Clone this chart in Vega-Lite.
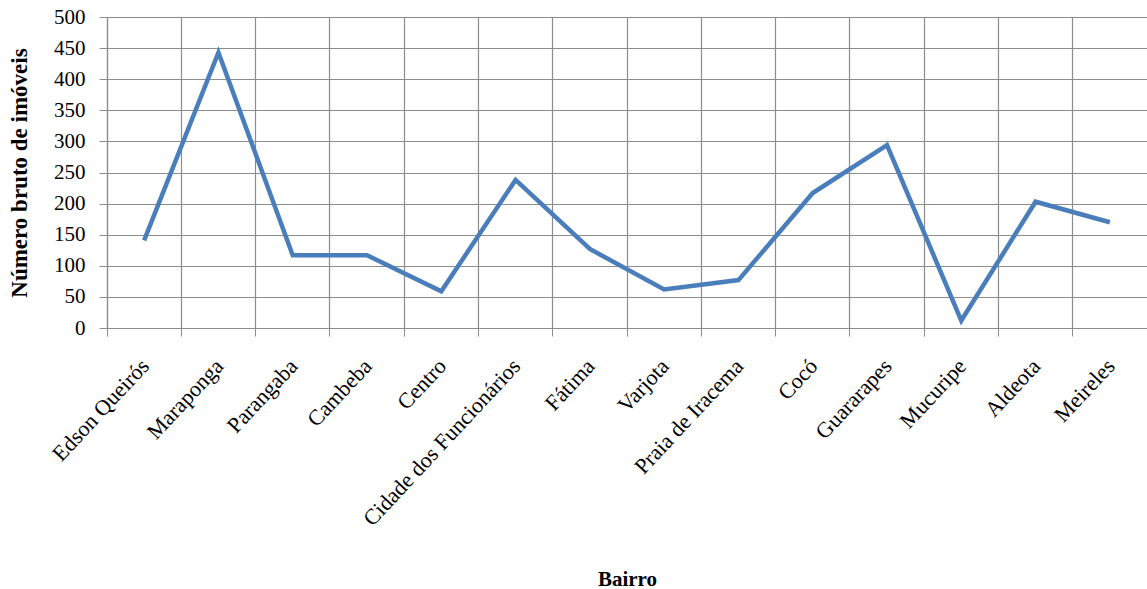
{
  "$schema": "https://vega.github.io/schema/vega-lite/v6.json",
  "autosize": "none",
  "padding": {"left": 107, "top": 17, "right": 0, "bottom": 261},
  "width": 1040,
  "height": 311,
  "background": "white",
  "data": {"values": [
    {"bairro": "Edson Queirós", "n": 141},
    {"bairro": "Maraponga", "n": 443},
    {"bairro": "Parangaba", "n": 117},
    {"bairro": "Cambeba", "n": 117},
    {"bairro": "Centro", "n": 59},
    {"bairro": "Cidade dos Funcionários", "n": 238},
    {"bairro": "Fátima", "n": 127},
    {"bairro": "Varjota", "n": 62},
    {"bairro": "Praia de Iracema", "n": 77},
    {"bairro": "Cocó", "n": 217},
    {"bairro": "Guararapes", "n": 294},
    {"bairro": "Mucuripe", "n": 12},
    {"bairro": "Aldeota", "n": 203},
    {"bairro": "Meireles", "n": 170}
  ]},
  "config": {
    "view": {"stroke": null},
    "font": "Liberation Serif"
  },
  "mark": {"type": "line", "color": "#4a7ebb", "strokeWidth": 4.5, "strokeJoin": "miter"},
  "encoding": {
    "x": {
      "field": "bairro", "type": "nominal", "sort": null,
      "bandPosition": 0.5,
      "scale": {"type": "band", "paddingInner": 0, "paddingOuter": 0},
      "axis": {
        "title": "Bairro",
        "titleFont": "Liberation Serif", "titleFontSize": 21, "titleFontWeight": "bold", "titleColor": "black",
        "titleY": 240, "titleX": 520, "titleBaseline": "top",
        "labelAngle": -47, "labelFont": "Liberation Serif", "labelFontSize": 22, "labelColor": "black",
        "labelPadding": 26, "labelAlign": "right", "labelBaseline": "middle",
        "labelOffset": 1, "labelLimit": 0, "labelOverlap": false,
        "bandPosition": 0,
        "grid": true, "gridColor": "#8c8c8c", "gridWidth": 1.2,
        "ticks": true, "tickColor": "#8c8c8c", "tickSize": 8,
        "domainColor": "#8c8c8c", "domainWidth": 1.2
      }
    },
    "y": {
      "field": "n", "type": "quantitative",
      "scale": {"domain": [0, 500]},
      "axis": {
        "title": "Número bruto de imóveis",
        "titleFont": "Liberation Serif", "titleFontSize": 23, "titleFontWeight": "bold", "titleColor": "black",
        "titleX": -76, "titleY": 155.5, "titleAnchor": "middle",
        "values": [0, 50, 100, 150, 200, 250, 300, 350, 400, 450, 500],
        "labelFont": "Liberation Serif", "labelFontSize": 21, "labelColor": "black",
        "labelPadding": 14,
        "grid": true, "gridColor": "#8c8c8c", "gridWidth": 1.2,
        "ticks": true, "tickColor": "#8c8c8c", "tickSize": 8,
        "domainColor": "#8c8c8c", "domainWidth": 1.2
      }
    }
  }
}
